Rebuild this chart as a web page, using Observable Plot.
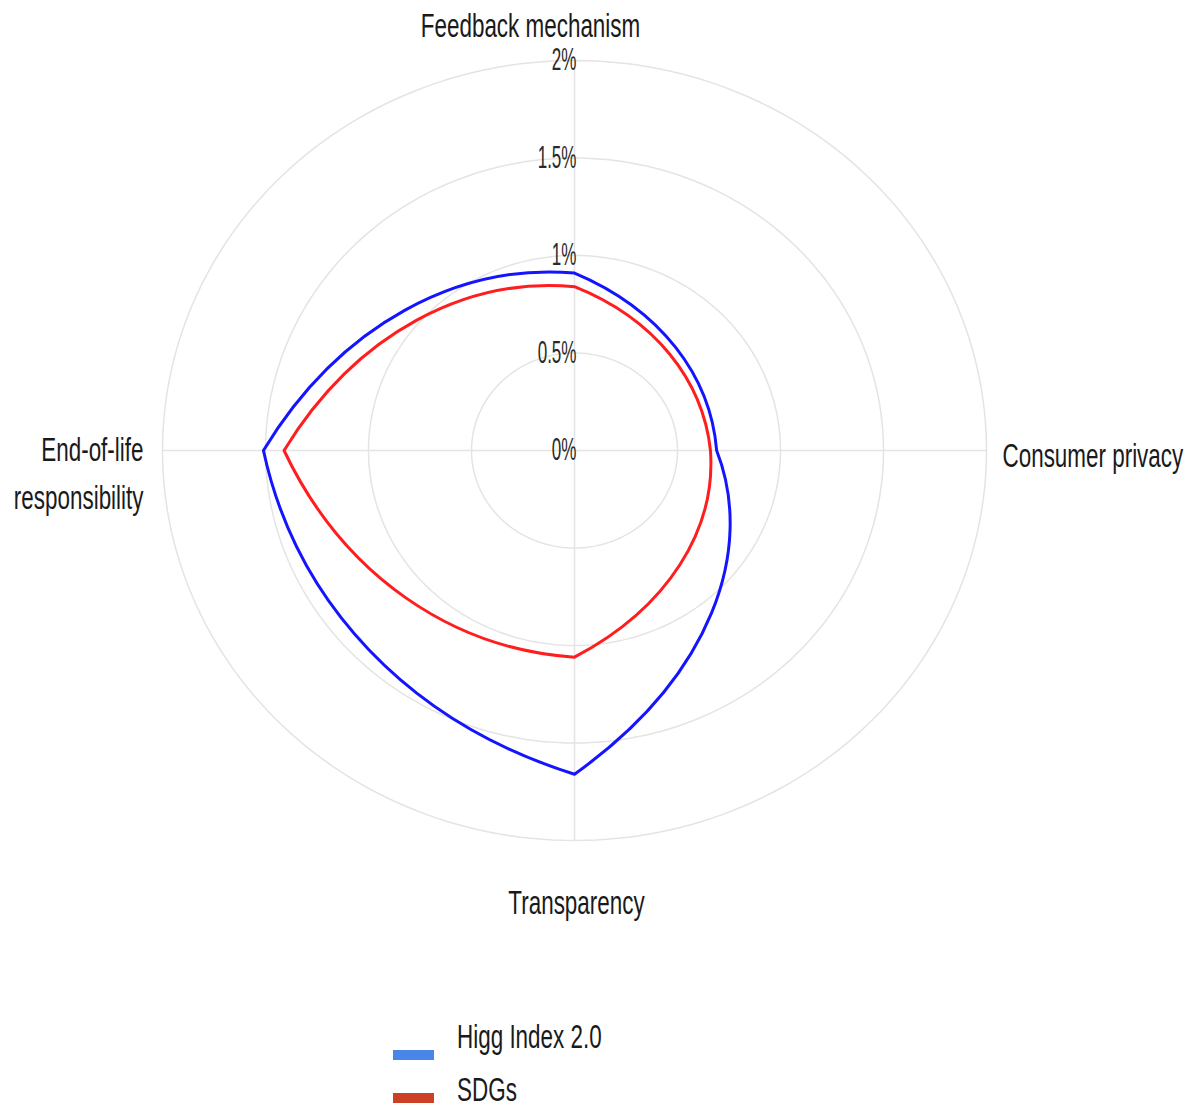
<!DOCTYPE html>
<html>
<head>
<meta charset="utf-8">
<script src="https://cdn.jsdelivr.net/npm/d3@7"></script>
<script src="https://cdn.jsdelivr.net/npm/@observablehq/plot@0.6"></script>
<style>
  html, body { margin: 0; padding: 0; background: #fff; }
  body { position: relative; width: 1202px; height: 1108px; overflow: hidden; font-family: "Liberation Sans", Arial, sans-serif; }
  #chart svg { display: block; }
  .legend-bar { position: absolute; width: 41px; height: 10px; }
  .legend-text { position: absolute; font-size: 33px; line-height: 33px; color: #1a1a1a; transform: scaleX(0.68); transform-origin: 0 0; white-space: nowrap; }
</style>
</head>
<body>
<div id="chart"></div>
<div id="legend"></div>
<script>
// ---- data ----
const categories = ["Feedback mechanism", "Consumer privacy", "Transparency", "End-of-life responsibility"];
const axisLabels = ["Feedback mechanism", "Consumer privacy", "Transparency", "End-of-life\nresponsibility"];
const seriesNames = ["Higg Index 2.0", "SDGs"];
const higgValues = [0.91, 0.69, 1.66, 1.51];
const sdgValues = [0.84, 0.66, 1.06, 1.41];
const tickValues = [0, 0.5, 1, 1.5, 2];
const tickLabels = ["0%", "0.5%", "1%", "1.5%", "2%"];
const lineColors = ["#1414ff", "#ff1e1e"];
const legendColors = ["#4a86e8", "#cc4125"];

// ---- geometry ----
const W = 1202, H = 1000;
const CX = 574, CY = 450, SX = 206, SY = 195; // pixels per unit (slightly elliptical, as in reference)
const RMAX = 2;
const angleOf = i => Math.PI / 2 - i * Math.PI / 2; // top, right, bottom, left

function toPolar(x, y) { const u = (x - CX) / SX, v = (CY - y) / SY; return [Math.atan2(v, u), Math.hypot(u, v)]; }
function fromPolar(a, r) { return [CX + r * Math.cos(a) * SX, CY - r * Math.sin(a) * SY]; }
function wrap(d) { while (d > Math.PI) d -= 2 * Math.PI; while (d <= -Math.PI) d += 2 * Math.PI; return d; }

// closed curve: cubic Bezier segments whose control points follow polar interpolation
function polarBezierClosed(context) {
  let pts;
  return {
    areaStart() {}, areaEnd() {},
    lineStart() { pts = []; },
    point(x, y) { pts.push([+x, +y]); },
    lineEnd() {
      const n = pts.length; if (!n) return;
      const P = pts.map(p => toPolar(p[0], p[1]));
      context.moveTo(pts[0][0], pts[0][1]);
      for (let i = 0; i < n; i++) {
        const [a0, r0] = P[i], [a1, r1] = P[(i + 1) % n];
        const d = wrap(a1 - a0);
        const c1 = fromPolar(a0 + d / 3, r0 + (r1 - r0) / 3);
        const c2 = fromPolar(a0 + 2 * d / 3, r0 + 2 * (r1 - r0) / 3);
        const e = fromPolar(a0 + d, r1);
        context.bezierCurveTo(c1[0], c1[1], c2[0], c2[1], e[0], e[1]);
      }
      context.closePath();
    }
  };
}
// closed curve: exact polar interpolation (constant radius -> ring)
function polarArcClosed(context) {
  let pts;
  const STEPS = 60;
  return {
    areaStart() {}, areaEnd() {},
    lineStart() { pts = []; },
    point(x, y) { pts.push([+x, +y]); },
    lineEnd() {
      const n = pts.length; if (!n) return;
      const P = pts.map(p => toPolar(p[0], p[1]));
      context.moveTo(pts[0][0], pts[0][1]);
      for (let i = 0; i < n; i++) {
        const [a0, r0] = P[i], [a1, r1] = P[(i + 1) % n];
        const d = wrap(a1 - a0);
        for (let k = 1; k <= STEPS; k++) {
          const t = k / STEPS;
          const q = fromPolar(a0 + d * t, r0 + (r1 - r0) * t);
          context.lineTo(q[0], q[1]);
        }
      }
      context.closePath();
    }
  };
}

// ---- tables built from the arrays ----
const seriesValues = [higgValues, sdgValues];
const lineData = seriesNames.flatMap((s, si) =>
  categories.map((c, i) => ({series: s, category: c, value: seriesValues[si][i],
    x: seriesValues[si][i] * Math.cos(angleOf(i)), y: seriesValues[si][i] * Math.sin(angleOf(i))})));
const ringData = tickValues.filter(v => v > 0).flatMap(v =>
  categories.map((c, i) => ({ring: v, x: v * Math.cos(angleOf(i)), y: v * Math.sin(angleOf(i))})));
const labelData = axisLabels.map((t, i) => ({label: t, i, x: RMAX * Math.cos(angleOf(i)), y: RMAX * Math.sin(angleOf(i))}));

const labelStyle = {fontSize: 33, fill: "#1a1a1a", fontFamily: "Liberation Sans, Arial, sans-serif"};
const labelMark = (i, opts) => Plot.text(labelData.filter(d => d.i === i), {x: "x", y: "y", text: "label", ...labelStyle, ...opts});

const chart = Plot.plot({
  width: W, height: H,
  margin: 0,
  x: {domain: [-RMAX, RMAX], range: [CX - RMAX * SX, CX + RMAX * SX], axis: null},
  y: {domain: [-RMAX, RMAX], range: [CY + RMAX * SY, CY - RMAX * SY], axis: null},
  color: {domain: seriesNames, range: lineColors},
  style: {background: "#fff", fontFamily: "Liberation Sans, Arial, sans-serif"},
  marks: [
    Plot.line(ringData, {x: "x", y: "y", z: "ring", curve: polarArcClosed, stroke: "#e4e4e4", strokeWidth: 1.5}),
    Plot.ruleX([0], {y1: -RMAX, y2: RMAX, stroke: "#e4e4e4", strokeWidth: 1.5}),
    Plot.ruleY([0], {x1: -RMAX, x2: RMAX, stroke: "#e4e4e4", strokeWidth: 1.5}),
    Plot.line(lineData, {x: "x", y: "y", z: "series", stroke: "series", curve: polarBezierClosed, strokeWidth: 3}),
    Plot.text(tickValues, {x: () => 0, y: d => d, text: (d, i) => tickLabels[i], textAnchor: "end", dx: 2,
      fontSize: 31, fill: "#2a2a2a", fontFamily: "Liberation Sans, Arial, sans-serif"}),
    labelMark(0, {textAnchor: "middle", dx: -44, dy: -34}),
    labelMark(1, {textAnchor: "start", dx: 16, dy: 6}),
    labelMark(2, {textAnchor: "middle", dx: 2, dy: 63}),
    labelMark(3, {textAnchor: "end", dx: -19, dy: 19, lineHeight: 1.45})
  ]
});

// condensed glyphs, as in the reference
chart.querySelectorAll("text").forEach(t => {
  const k = t.textContent.includes("%") ? 0.55 : 0.68;
  let tr = t.getAttribute("transform");
  if (!tr) {
    const x = t.getAttribute("x") || 0, y = t.getAttribute("y") || 0;
    tr = `translate(${x},${y})`;
    t.removeAttribute("x"); t.removeAttribute("y");
  }
  t.setAttribute("transform", tr + ` scale(${k},1)`);
});
document.getElementById("chart").appendChild(chart);

// ---- legend (below the svg) ----
const legend = document.getElementById("legend");
const legendTops = [1020, 1073];
const barTops = [1050, 1093];
seriesNames.forEach((s, i) => {
  const bar = document.createElement("div");
  bar.className = "legend-bar";
  bar.style.left = "393px"; bar.style.top = barTops[i] + "px"; bar.style.background = legendColors[i];
  legend.appendChild(bar);
  const txt = document.createElement("div");
  txt.className = "legend-text";
  txt.style.left = "457px"; txt.style.top = legendTops[i] + "px";
  txt.textContent = s;
  legend.appendChild(txt);
});
</script>
</body>
</html>
